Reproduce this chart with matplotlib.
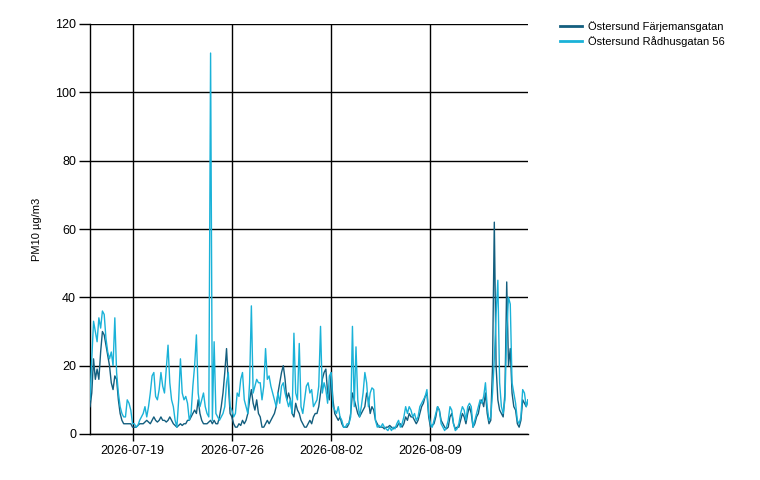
#!/usr/bin/env python3
# -*- coding: utf-8 -*-
'''
**********************************************************
* PM10 Östersund - hourly levels, two stations
**********************************************************
'''
import sys
import pandas as pd
import matplotlib
matplotlib.use("Agg")
import matplotlib.pyplot as plt
import matplotlib.dates as mdates

#************************************
''' Data (3 h steps from 2026-07-16 00:00) '''
#************************************
startTime = "2026-07-16 00:00"
stepHours = 3

farjemansgatan = [
    8, 12, 22, 16, 19, 16, 24, 30,
    29, 26, 23, 20, 15, 13, 17, 16,
    10, 6, 4, 3, 3, 3, 3, 3,
    2, 2, 2, 2.5, 3, 3, 3, 3.5,
    4, 3.5, 3, 4, 5, 4, 3.5, 4,
    5, 4, 4, 3.5, 4, 5, 4, 3,
    2.5, 2, 2.5, 3, 2.5, 3, 3, 4,
    4, 5, 6, 7, 6, 10, 6, 4,
    3, 3, 3, 3.5, 4, 3, 4, 3,
    3, 5, 8, 12, 18, 25, 15, 6,
    5, 3, 2, 2, 3, 2.5, 4, 3,
    4, 6, 10, 13, 9, 7, 10, 6,
    5, 2, 2, 3, 4, 3, 4, 5,
    6, 8, 12, 15, 18, 20, 16, 10,
    12, 10, 6, 5, 9, 7, 6, 4,
    3, 2, 2, 3, 4, 3, 5, 6,
    6, 8, 12, 16, 18, 19, 12, 10,
    18, 10, 6, 5, 4, 5, 3, 2,
    2, 2, 3, 6, 12, 10, 8, 6,
    5, 6, 7, 8, 12, 10, 6, 8,
    7, 4, 3, 2, 2, 2, 1.5, 2,
    2, 2.5, 2, 1.5, 2, 2, 3, 3,
    2, 3, 5, 4, 6, 5, 5, 4,
    3, 4, 6, 8, 9, 11, 12, 5,
    2, 2.5, 3, 5, 8, 7, 4, 3,
    2, 1.5, 2, 5, 6, 3, 1.5, 2,
    2, 4, 6, 5, 3, 6, 8, 6,
    2, 3, 5, 6, 9, 10, 8, 12,
    6, 3, 4, 20, 62, 20, 10, 7,
    6, 5, 12, 44.5, 20, 25, 12, 8,
    7, 3, 2, 4, 10, 9, 8, 10,
]

radhusgatan = [
    10, 22, 33, 30, 27, 34, 31, 36,
    35, 28, 24, 22, 24, 20, 34, 18,
    12, 8, 6, 5, 5, 10, 9, 7,
    3, 3, 2, 2.5, 4, 5, 6, 8,
    5, 8, 12, 17, 18, 11, 10, 13,
    18, 14, 12, 19, 26, 15, 10, 8,
    4, 2, 10, 22, 12, 10, 11, 9,
    4, 6, 14, 20, 29, 12, 8, 10,
    12, 8, 6, 5, 111.5, 4, 27, 6,
    5, 4, 5, 6, 8, 15, 18, 8,
    7, 5, 6, 12, 11, 16, 18, 10,
    8, 6, 15, 37.5, 12, 14, 16, 15,
    15, 10, 14, 25, 16, 17, 14, 12,
    10, 8, 12, 9, 14, 15, 12, 10,
    8, 10, 6, 29.5, 12, 10, 26.5, 8,
    6, 10, 14, 15, 12, 13, 8, 9,
    10, 14, 31.5, 12, 15, 13, 9, 17,
    18, 8, 7, 6, 8, 5, 4, 2,
    2, 3, 3, 5, 31.5, 8, 25.5, 10,
    5, 8, 12, 18, 15, 8, 12, 13.5,
    13, 4, 2, 2.5, 2, 3, 2, 1.5,
    1, 2, 1, 2, 1.5, 3, 4, 2,
    3, 5, 8, 6, 8, 7, 5, 6,
    4, 5, 8, 9, 10, 11, 13, 6,
    3, 2, 4, 6, 8, 7, 3, 2,
    1, 2, 4, 8, 7, 3, 1, 1.5,
    3, 6, 8, 7, 4, 8, 9, 8,
    2, 4, 6, 8, 10, 9, 11, 15,
    8, 4, 5, 12, 22, 35, 45, 15,
    8, 6, 10, 30, 40, 38, 15, 12,
    9, 4, 3, 5, 13, 12, 8, 10,
]

seriesNames = ["Östersund Färjemansgatan", "Östersund Rådhusgatan 56"]
tickDates = ["2026-07-19", "2026-07-26", "2026-08-02", "2026-08-09"]
yTicks = [0, 20, 40, 60, 80, 100, 120]
yLabel = "PM10 µg/m3"

#************************************
''' Main '''
#************************************
def main():
    plt.rcParams['font.family'] = ['Liberation Sans', 'DejaVu Sans']
    times = pd.date_range(startTime, periods=len(farjemansgatan),
                          freq="%dh" % stepHours)

    fig = plt.figure(figsize=(7.6, 4.8), dpi=100)
    ax = fig.add_axes([90/760, 46/480, 438/760, 410/480])

    ax.plot(times, farjemansgatan, color='#135e7e', lw=1.0,
            label=seriesNames[0], zorder=3)
    ax.plot(times, radhusgatan, color='#1ab2d8', lw=1.0,
            label=seriesNames[1], zorder=4)

    ax.set_xlim(times[0], times[-1])
    ax.set_ylim(0, 120)
    ax.set_yticks(yTicks)
    ax.set_xticks(pd.to_datetime(tickDates))
    ax.xaxis.set_major_formatter(mdates.DateFormatter('%Y-%m-%d'))

    ax.grid(True, color='black', lw=1.0)
    ax.set_axisbelow(True)
    for s in ['top', 'right']:
        ax.spines[s].set_visible(False)
    for s in ['left', 'bottom']:
        ax.spines[s].set_linewidth(1.0)

    ax.tick_params(axis='y', length=8, width=1.0, pad=2, labelsize=9)
    ax.tick_params(axis='x', length=5, width=1.0, pad=3, labelsize=9)

    ax.set_ylabel(yLabel, fontsize=8)
    ax.yaxis.set_label_coords(-0.109, 0.5)

    leg = fig.legend(loc='upper left', bbox_to_anchor=(560/760, 1 - 21/480),
                     frameon=False, fontsize=8, handlelength=2.0,
                     handletextpad=0.55, labelspacing=0.38,
                     borderpad=0, borderaxespad=0)
    for h in leg.get_lines():
        h.set_linewidth(2.0)

    fig.savefig('out.png', dpi=100)
    plt.close()

#************************************
''' Main initialization routine '''
#************************************
if __name__ == "__main__":
    sys.exit(main())
